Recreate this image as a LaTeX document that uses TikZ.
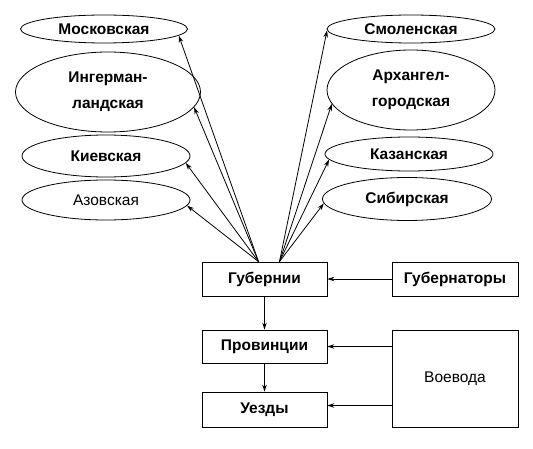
\documentclass[tikz,border=0pt]{standalone}
\usepackage{fontspec}
\setmainfont{Liberation Sans}
\usetikzlibrary{arrows.meta,shapes.geometric}

\begin{document}
\begin{tikzpicture}[x=1pt,y=-1pt,line width=0.8pt,
  gub/.style={shape=ellipse,draw,inner sep=0pt,align=center,font=\bfseries\fontsize{15.5}{26}\selectfont},
  box/.style={shape=rectangle,draw,inner sep=0pt,font=\bfseries\fontsize{15.5}{26}\selectfont},
  thin/.style={font=\fontsize{15.5}{26}\selectfont},
  >={Stealth[length=7pt,width=4.5pt]}]
\useasboundingbox (0,0) rectangle (533,449);

\node[gub,minimum width=167pt,minimum height=28pt] (M) at (104,29) {Московская};
\node[gub,minimum width=185pt,minimum height=80pt] (I) at (108,92) {Ингерман-\\ландская};
\node[gub,minimum width=168pt,minimum height=42pt] (K) at (106,156) {Киевская};
\node[gub,thin,minimum width=168pt,minimum height=40pt] (A) at (106,200) {Азовская};
\node[gub,minimum width=168pt,minimum height=28pt] (S) at (411,29) {Смоленская};
\node[gub,minimum width=168pt,minimum height=80pt] (Ar) at (411,90) {Архангел-\\городская};
\node[gub,minimum width=168pt,minimum height=34pt] (Ka) at (409,154) {Казанская};
\node[gub,minimum width=169pt,minimum height=43pt] (Si) at (407,199) {Сибирская};

\node[box,minimum width=125pt,minimum height=34pt] (G) at (264.5,279) {Губернии};
\node[box,minimum width=126pt,minimum height=34pt] (Gt) at (455,279) {Губернаторы};
\node[box,minimum width=125pt,minimum height=33pt] (P) at (264.5,346.5) {Провинции};
\node[box,minimum width=125pt,minimum height=35pt] (U) at (264.5,409.5) {Уезды};
\node[box,thin,minimum width=126pt,minimum height=97pt] (V) at (455,378.5) {Воевода};

\coordinate (gl) at ([xshift=-6pt]G.north);
\coordinate (gr) at ([xshift=15pt]G.north);

\draw[->] (gl) -- (M.-5);
\draw[->] (gl) -- (I.-10);
\draw[->] (gl) -- (K.-5);
\draw[->] (gl) -- (A.-4);
\draw[->] (gr) -- (S.181);
\draw[->] (gr) -- (Ar.190);
\draw[->] (gr) -- (Ka.184);
\draw[->] (gr) -- (Si.183);

\draw[->] (Gt) -- (G);
\draw[->] (G) -- (P);
\draw[->] (P) -- (U);
\draw[->] (V.west |- P.east) -- (P.east);
\draw[->] ([yshift=4pt]V.west |- U.east) -- ([yshift=4pt]U.east);
\end{tikzpicture}
\end{document}
